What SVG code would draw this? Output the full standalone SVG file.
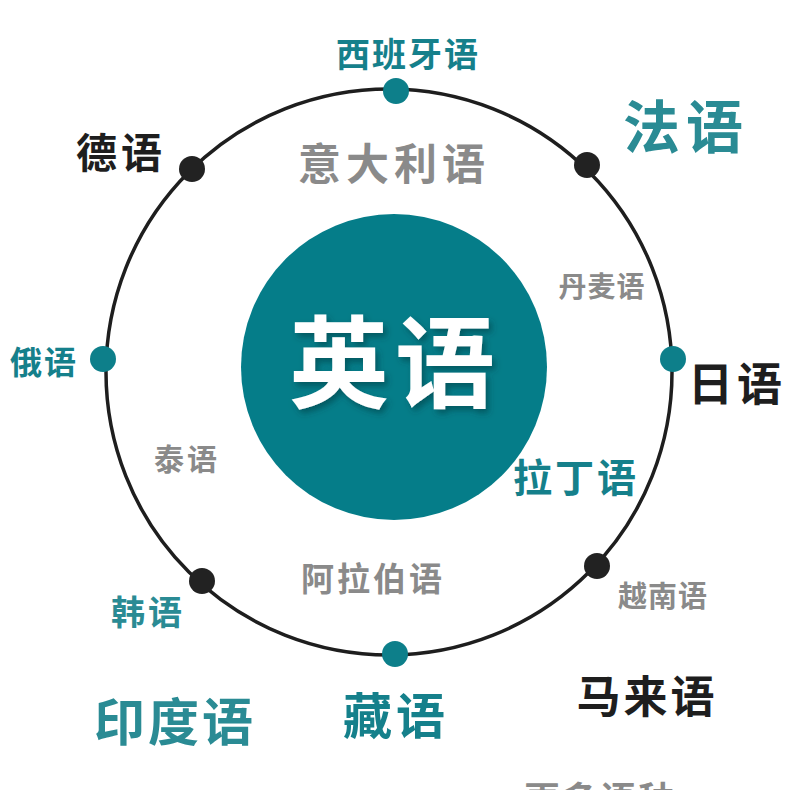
<svg xmlns="http://www.w3.org/2000/svg" width="790" height="790" viewBox="0 0 790 790">
<defs>
<style>
text{font-family:"Noto Sans CJK SC","Noto Sans",sans-serif;font-weight:700;}
.teal{fill:#15808b;}
.teal2{fill:#2a8b94;}
.gray{fill:#8a8a8a;}
.black{fill:#1e1e1e;}
.dt{fill:#0d7f8a;}
.db{fill:#222;}
</style>
<filter id="sh" x="-20%" y="-20%" width="140%" height="140%">
<feDropShadow dx="3" dy="4" stdDeviation="3" flood-color="#003a40" flood-opacity="0.55"/>
</filter>
</defs>
<rect width="790" height="790" fill="#fff"/>
<g id="connectors">
<circle cx="389" cy="372" r="283" fill="none" stroke="#1e1e1e" stroke-width="3.5"/>
</g>
<g id="center">
<circle cx="394" cy="367" r="153" fill="#057d89"/>
<text x="395" y="400" font-size="100" fill="#fff" text-anchor="middle" letter-spacing="6" filter="url(#sh)">英语</text>
</g>
<g id="xibanya"><circle class="dt" cx="396" cy="91" r="13"/><text class="teal" x="408" y="67" font-size="34" text-anchor="middle" letter-spacing="2">西班牙语</text></g>
<g id="deyu"><circle class="db" cx="192" cy="169" r="13"/><text class="black" x="121" y="168" font-size="41" text-anchor="middle" letter-spacing="4">德语</text></g>
<g id="fayu"><circle class="db" cx="587" cy="165" r="13"/><text class="teal2" x="686" y="148" font-size="57" text-anchor="middle" letter-spacing="6">法语</text></g>
<g id="eyu"><circle class="dt" cx="103" cy="359" r="13"/><text class="teal" x="44" y="374" font-size="32" text-anchor="middle" letter-spacing="2">俄语</text></g>
<g id="riyu"><circle class="dt" cx="673" cy="359" r="13"/><text class="black" x="737" y="401" font-size="45" text-anchor="middle" letter-spacing="4">日语</text></g>
<g id="hanyu"><circle class="db" cx="202" cy="581" r="13"/><text class="teal2" x="148" y="625" font-size="34" text-anchor="middle" letter-spacing="3">韩语</text></g>
<g id="yuenan"><circle class="db" cx="597" cy="566" r="13"/><text class="gray" x="663" y="607" font-size="29" text-anchor="middle" letter-spacing="1">越南语</text></g>
<g id="zangyu"><circle class="dt" cx="395" cy="654" r="13"/><text class="teal" x="396" y="734" font-size="49" text-anchor="middle" letter-spacing="4">藏语</text></g>
<g id="yidali"><text class="gray" x="394" y="180" font-size="43" text-anchor="middle" letter-spacing="5">意大利语</text></g>
<g id="danmai"><text class="gray" x="602" y="297" font-size="28" text-anchor="middle" letter-spacing="1">丹麦语</text></g>
<g id="taiyu"><text class="gray" x="187" y="470" font-size="30" text-anchor="middle" letter-spacing="3">泰语</text></g>
<g id="lading"><text class="teal" x="576" y="492" font-size="39" text-anchor="middle" letter-spacing="3">拉丁语</text></g>
<g id="alabo"><text class="gray" x="373" y="591" font-size="33" text-anchor="middle" letter-spacing="3">阿拉伯语</text></g>
<g id="yindu"><text class="teal2" x="175" y="741" font-size="51" text-anchor="middle" letter-spacing="3">印度语</text></g>
<g id="malai"><text class="black" x="647" y="713" font-size="44" text-anchor="middle" letter-spacing="3">马来语</text></g>
<g id="more"><text class="gray" x="600" y="813" font-size="36" text-anchor="middle" letter-spacing="2">更多语种</text></g>
</svg>
